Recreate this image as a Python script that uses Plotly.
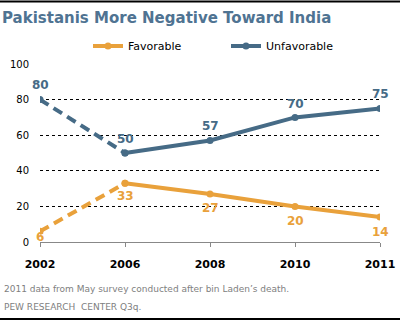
import plotly.graph_objects as go

years = ["2002", "2006", "2008", "2010", "2011"]
favorable = [6, 33, 27, 20, 14]
unfavorable = [80, 50, 57, 70, 75]
yticks = [0, 20, 40, 60, 80, 100]

ORANGE = "#E9A13B"
BLUE = "#466B86"
FONT = "DejaVu Sans"

x = list(range(len(years)))
fig = go.Figure()
labels = []

def add_series(vals, color, name, shifts):
    fig.add_trace(go.Scatter(x=x[:2], y=vals[:2], mode="lines+markers",
                             line=dict(color=color, width=4, dash="10px,6px"),
                             marker=dict(size=7, color=color),
                             showlegend=False, hoverinfo="skip"))
    fig.add_trace(go.Scatter(x=x[1:], y=vals[1:], mode="lines+markers",
                             line=dict(color=color, width=4),
                             marker=dict(size=7, color=color),
                             name=name, showlegend=True))
    for xi, v, s in zip(x, vals, shifts):
        labels.append(dict(x=xi, y=v, xref="x", yref="y", text="<b>%d</b>" % v,
                           showarrow=False, yshift=s, xanchor="center", yanchor="middle",
                           font=dict(size=12, color=color, family=FONT)))

add_series(favorable, ORANGE, "Favorable", [-6, -13, -14, -15, -15])
add_series(unfavorable, BLUE, "Unfavorable", [15, 14, 15, 13, 15])

footer = [
    dict(text="2011 data from May survey conducted after bin Laden\u2019s death.",
         xref="paper", yref="paper", x=-38/340, y=(242-289)/178,
         xanchor="left", yanchor="middle", showarrow=False,
         font=dict(size=9, color="#808080")),
    dict(text="PEW RESEARCH  CENTER Q3q.",
         xref="paper", yref="paper", x=-38/340, y=(242-307)/178,
         xanchor="left", yanchor="middle", showarrow=False,
         font=dict(size=9, color="#808080")),
]

fig.update_layout(
    width=405, height=322,
    margin=dict(l=40, r=25, t=64, b=80, autoexpand=False),
    paper_bgcolor="white", plot_bgcolor="white",
    font=dict(family=FONT, color="#000000", size=12),
    title=dict(text="<b>Pakistanis More Negative Toward India</b>",
               x=2/405, xanchor="left", y=1-18/322, yanchor="middle",
               font=dict(size=15, color="#4F7392", family=FONT)),
    legend=dict(orientation="h", x=(88-40)/340, xanchor="left", y=(242-46)/178,
                yanchor="middle", font=dict(size=11, color="#000000"),
                entrywidth=93, entrywidthmode="pixels", traceorder="normal"),
    xaxis=dict(range=[0, 4], tickvals=x, ticktext=["<b>%s</b>" % y for y in years],
               showgrid=False, zeroline=False, showline=True, linecolor="#888888",
               linewidth=1, ticks="outside", ticklen=4, tickcolor="#888888",
               tickfont=dict(size=11, color="#000000"), ticklabelstandoff=8),
    yaxis=dict(range=[0, 100], tickvals=yticks, showgrid=True, gridcolor="#000000",
               griddash="dot", gridwidth=1, zeroline=False, showline=False,
               tickfont=dict(size=10, color="#000000"), ticklabelstandoff=10),
    shapes=[
        dict(type="line", xref="paper", yref="paper", x0=-40/340, x1=360/340,
             y0=(242-1.5)/178, y1=(242-1.5)/178, line=dict(color="#000000", width=2)),
        dict(type="line", xref="paper", yref="paper", x0=-40/340, x1=360/340,
             y0=(242-319)/178, y1=(242-319)/178, line=dict(color="#000000", width=2)),
    ],
    annotations=labels + footer,
)
fig.write_html("out.html")
